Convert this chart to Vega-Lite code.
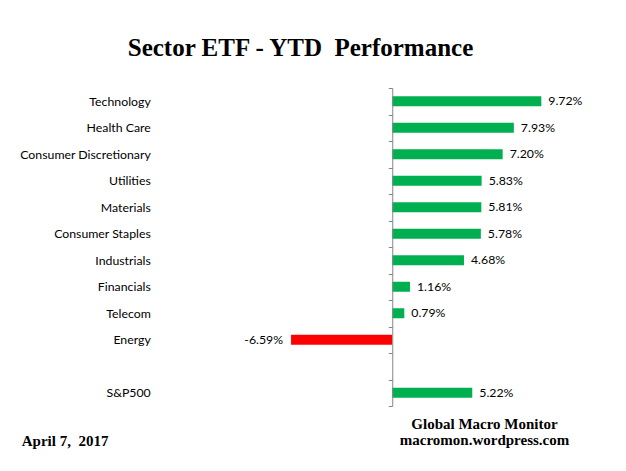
{
  "$schema": "https://vega.github.io/schema/vega-lite/v6.json",
  "width": 445,
  "height": 318,
  "autosize": {"type": "none"},
  "padding": {"left": 162, "top": 88, "right": 19, "bottom": 65},
  "background": "white",
  "title": {
    "text": "Sector ETF - YTD\u00a0 Performance",
    "font": "Liberation Serif",
    "fontSize": 25,
    "fontWeight": "bold",
    "color": "#000000",
    "anchor": "middle",
    "frame": "group",
    "dx": -84,
    "offset": 21
  },
  "data": {
    "values": [
      {"sector": "Technology", "ytd": 0.0972},
      {"sector": "Health Care", "ytd": 0.0793},
      {"sector": "Consumer Discretionary", "ytd": 0.0720},
      {"sector": "Utilities", "ytd": 0.0583},
      {"sector": "Materials", "ytd": 0.0581},
      {"sector": "Consumer Staples", "ytd": 0.0578},
      {"sector": "Industrials", "ytd": 0.0468},
      {"sector": "Financials", "ytd": 0.0116},
      {"sector": "Telecom", "ytd": 0.0079},
      {"sector": "Energy", "ytd": -0.0659},
      {"sector": "S&P500", "ytd": 0.0522}
    ]
  },
  "encoding": {
    "y": {
      "field": "sector",
      "type": "nominal",
      "scale": {
        "domain": ["Technology", "Health Care", "Consumer Discretionary", "Utilities", "Materials", "Consumer Staples", "Industrials", "Financials", "Telecom", "Energy", " ", "S&P500"],
        "paddingInner": 0,
        "paddingOuter": 0
      },
      "axis": {
        "title": "April 7,\u00a0 2017",
        "titleAngle": 0,
        "titleAlign": "left",
        "titleBaseline": "alphabetic",
        "titleX": -371,
        "titleY": 357,
        "titleFont": "Liberation Serif",
        "titleFontSize": 15,
        "titleFontWeight": "bold",
        "titleColor": "#000000",
        "offset": -230.25,
        "labelFont": "Lato",
        "labelFontSize": 12.3,
        "labelColor": "#000000",
        "labelPadding": 238,
        "tickSize": 4,
        "tickColor": "#868686",
        "domainColor": "#868686",
        "tickBand": "extent",
        "grid": false,
        "zindex": 1
      }
    },
    "x": {
      "field": "ytd",
      "type": "quantitative",
      "scale": {"domain": [-0.15, 0.14], "nice": false, "zero": false},
      "axis": {
        "title": ["Global Macro Monitor", "macromon.wordpress.com"],
        "labels": false,
        "ticks": false,
        "domain": false,
        "grid": false,
        "titleFont": "Liberation Serif",
        "titleFontSize": 15,
        "titleFontWeight": "bold",
        "titleColor": "#000000",
        "titleX": 322,
        "titleY": 22,
        "titleAlign": "center",
        "titleBaseline": "alphabetic",
        "titleLineHeight": 16.5
      }
    }
  },
  "layer": [
    {
      "mark": {"type": "bar", "size": 10},
      "encoding": {
        "color": {"condition": {"test": "datum.ytd < 0", "value": "#FF0000"}, "value": "#00B050"}
      }
    },
    {
      "transform": [{"filter": "datum.ytd >= 0"}],
      "mark": {"type": "text", "align": "left", "baseline": "middle", "dx": 7, "font": "Lato", "fontSize": 12.3, "color": "#000000"},
      "encoding": {"text": {"field": "ytd", "type": "quantitative", "format": ".2%"}}
    },
    {
      "transform": [{"filter": "datum.ytd < 0"}],
      "mark": {"type": "text", "align": "right", "baseline": "middle", "dx": -8, "font": "Lato", "fontSize": 12.3, "color": "#000000"},
      "encoding": {"text": {"field": "ytd", "type": "quantitative", "format": ".2%"}}
    }
  ],
  "config": {
    "view": {"stroke": null},
    "locale": {
      "number": {"decimal": ".", "thousands": ",", "grouping": [3], "currency": ["$", ""], "minus": "-"}
    }
  }
}
